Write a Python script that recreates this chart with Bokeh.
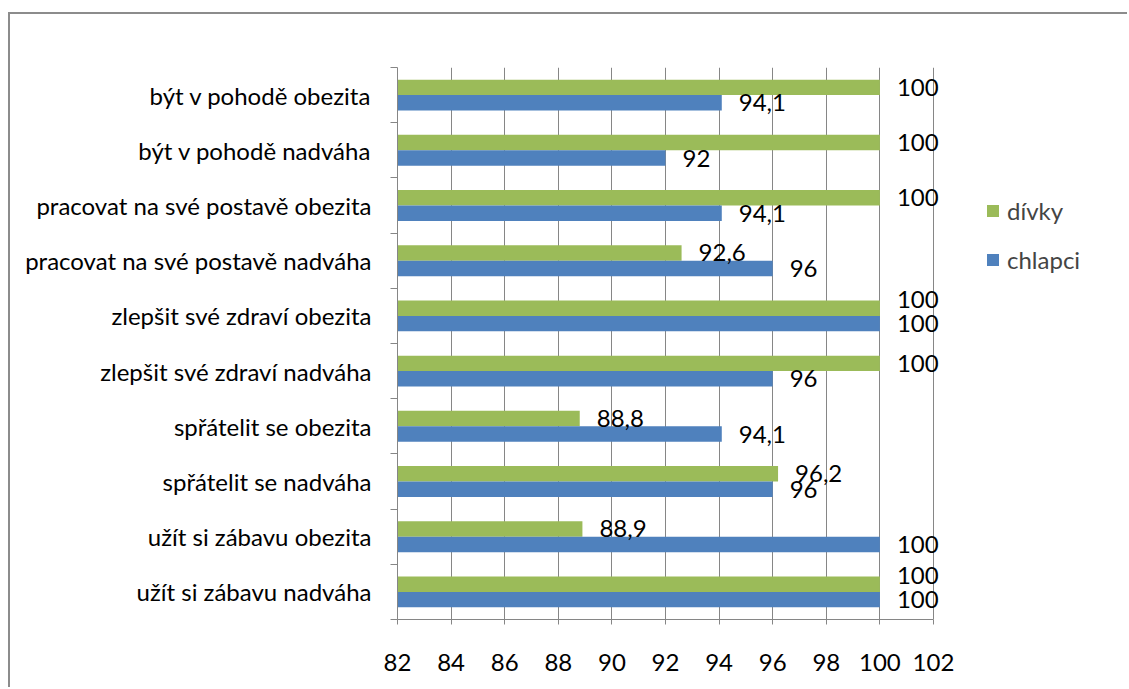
from bokeh.plotting import figure
from bokeh.models import (Range1d, FixedTicker, ColumnDataSource, LabelSet,
                          Legend, LegendItem)
from bokeh.core.properties import value
from bokeh.embed import file_html
from bokeh.resources import INLINE

# Categories listed from the bottom of the chart to the top
categories = [
    "užít si zábavu nadváha",
    "užít si zábavu obezita",
    "spřátelit se nadváha",
    "spřátelit se obezita",
    "zlepšit své zdraví nadváha",
    "zlepšit své zdraví obezita",
    "pracovat na své postavě nadváha",
    "pracovat na své postavě obezita",
    "být v pohodě nadváha",
    "být v pohodě obezita",
]
divky = [100, 88.9, 96.2, 88.8, 100, 100, 92.6, 100, 100, 100]
chlapci = [100, 100, 96, 94.1, 96, 100, 96, 94.1, 92, 94.1]
x_ticks = list(range(82, 103, 2))

GREEN = "#9BBB59"
BLUE = "#4F81BD"
GRID = "#868686"
FONT = "Lato"
FSIZE = "24px"

W, H = 1119, 675
LEFT, TOP, BOTTOM = 387, 53, 70
X0, X1 = 82, 102
PX_PER_UNIT = 536 / (X1 - X0)
# the frame runs to the right edge so the legend beside the bars is not clipped
x_end = X0 + (W - LEFT) / PX_PER_UNIT
# upward nudge (px) for a green label that would sit on top of the blue one
COLLIDE_NUDGE = 9


def fmt(v):
    return f"{v:g}".replace(".", ",")


centers = [i + 0.5 for i in range(len(categories))]
bar_h = 0.28

g_nudge = [COLLIDE_NUDGE if g == b else 0 for g, b in zip(divky, chlapci)]

src_g = ColumnDataSource(dict(y=[c + bar_h / 2 for c in centers], right=divky,
                              label=[fmt(v) for v in divky], dy=g_nudge))
src_b = ColumnDataSource(dict(y=[c - bar_h / 2 for c in centers], right=chlapci,
                              label=[fmt(v) for v in chlapci],
                              dy=[0] * len(chlapci)))

p = figure(width=W, height=H,
           x_range=Range1d(X0, x_end), y_range=Range1d(0, len(categories)),
           output_backend="svg", toolbar_location=None,
           min_border_left=LEFT, min_border_right=0,
           min_border_top=TOP, min_border_bottom=BOTTOM,
           styles={"margin-left": "8px", "margin-top": "12px",
                   "border-left": "2px solid #8c8c8c",
                   "border-top": "2px solid #8c8c8c"})
p.outline_line_color = None
p.background_fill_color = "white"

r_g = p.hbar(y="y", left=X0, right="right", height=bar_h, source=src_g,
             fill_color=GREEN, line_color=None)
r_b = p.hbar(y="y", left=X0, right="right", height=bar_h, source=src_b,
             fill_color=BLUE, line_color=None)

# x axis and vertical grid
p.xaxis.ticker = FixedTicker(ticks=x_ticks)
p.xgrid.ticker = FixedTicker(ticks=x_ticks)
p.xgrid.grid_line_color = GRID
p.ygrid.visible = False
xa = p.xaxis[0]
xa.bounds = (X0, X1)
xa.axis_line_color = GRID
xa.major_tick_line_color = GRID
xa.major_tick_out = 5
xa.major_tick_in = 0
xa.minor_tick_line_color = None
xa.major_label_text_font = FONT
xa.major_label_text_font_size = FSIZE
xa.major_label_text_color = "black"
xa.major_label_standoff = 29

# category axis: labels at band centres, ticks at band boundaries
ya = p.yaxis[0]
ya.ticker = FixedTicker(ticks=centers, minor_ticks=list(range(len(categories) + 1)))
ya.major_label_overrides = {c: name for c, name in zip(centers, categories)}
ya.axis_line_color = GRID
ya.major_tick_line_color = None
ya.major_tick_out = 0
ya.major_tick_in = 0
ya.minor_tick_line_color = GRID
ya.minor_tick_out = 7
ya.minor_tick_in = 0
ya.major_label_text_font = FONT
ya.major_label_text_font_size = FSIZE
ya.major_label_text_color = "black"
ya.major_label_standoff = 19

# value labels at the end of each bar
for src in (src_g, src_b):
    p.add_layout(LabelSet(x="right", y="y", text="label", source=src,
                          x_offset=17, y_offset="dy", text_baseline="middle",
                          text_font=value(FONT), text_font_size=value(FSIZE),
                          text_color="black"))

legend = Legend(items=[LegendItem(label="dívky", renderers=[r_g]),
                       LegendItem(label="chlapci", renderers=[r_b])],
                location=(588, 345), glyph_width=15, glyph_height=15,
                label_text_font=FONT, label_text_font_size=FSIZE,
                label_standoff=7, spacing=20, padding=0, margin=0,
                border_line_color=None, background_fill_alpha=0)
p.add_layout(legend, "center")

open("out.html", "w").write(file_html(p, INLINE))
